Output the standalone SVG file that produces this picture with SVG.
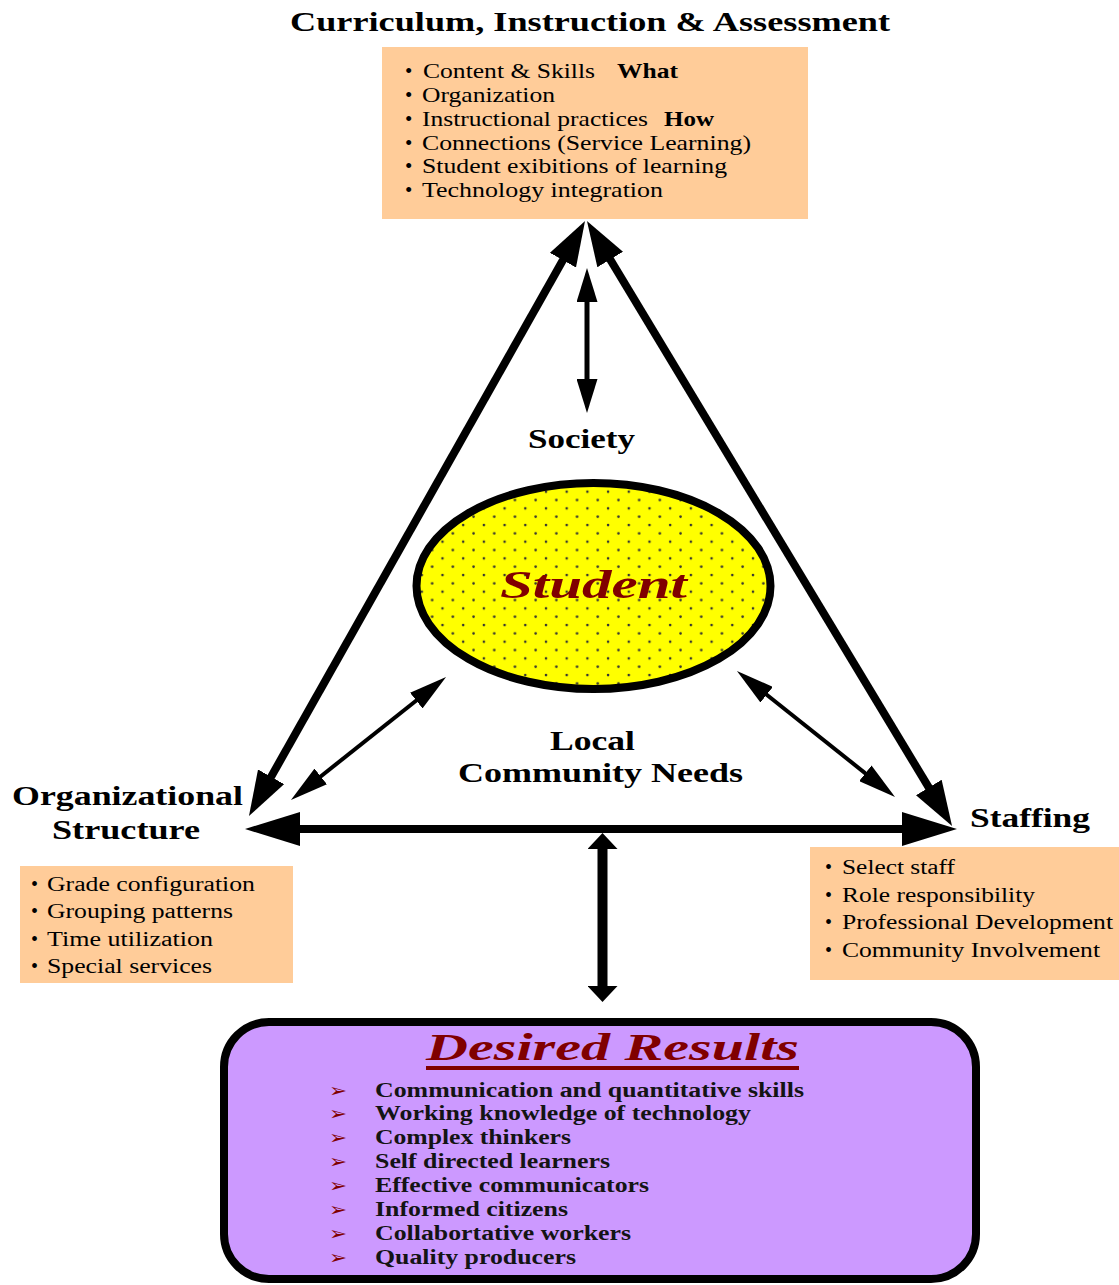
<svg xmlns="http://www.w3.org/2000/svg" width="1119" height="1285" viewBox="0 0 1119 1285">
<style>
  text { font-family: "Liberation Serif", Tinos, "Nimbus Roman", FreeSerif, "Times New Roman", Times, serif; fill: #000; }
  .hd { font-weight: bold; font-size: 28px; }
  .it { font-size: 21px; }
  .it2 { font-size: 20px; }
  .b { font-weight: bold; }
  .dr { font-weight: bold; font-style: italic; fill: #800000; }
  .li { font-weight: bold; font-size: 20px; fill: #141414; }
  .ar { font-family: "DejaVu Sans", "Noto Sans", sans-serif; font-size: 19px; fill: #800000; }
  .box { fill: #FFCC99; }
  .conn line { stroke: #000; fill: none; }
</style>
<defs>
  <marker id="mDiag" viewBox="0 0 45 30" markerWidth="45" markerHeight="30" refX="25" refY="15" markerUnits="userSpaceOnUse" orient="auto-start-reverse">
    <path d="M0,0 L45,15 L0,30 z" fill="#000"/>
  </marker>
  <marker id="mHor" viewBox="0 0 55 34" markerWidth="55" markerHeight="34" refX="35" refY="17" markerUnits="userSpaceOnUse" orient="auto-start-reverse">
    <path d="M0,0 L55,17 L0,34 z" fill="#000"/>
  </marker>
  <marker id="mSoc" viewBox="0 0 34 21" markerWidth="34" markerHeight="21" refX="19" refY="10.5" markerUnits="userSpaceOnUse" orient="auto-start-reverse">
    <path d="M0,0 L34,10.5 L0,21 z" fill="#000"/>
  </marker>
  <marker id="mSmall" viewBox="0 0 38 20" markerWidth="38" markerHeight="20" refX="23" refY="10" markerUnits="userSpaceOnUse" orient="auto-start-reverse">
    <path d="M0,0 L38,10 L0,20 z" fill="#000"/>
  </marker>
  <marker id="mVert" viewBox="0 0 16 30" markerWidth="16" markerHeight="30" refX="6" refY="15" markerUnits="userSpaceOnUse" orient="auto-start-reverse">
    <path d="M0,0 L16,15 L0,30 z" fill="#000"/>
  </marker>
  <pattern id="dots" patternUnits="userSpaceOnUse" x="541" y="487.7" width="20.7" height="16.67">
    <circle cx="5" cy="4" r="1.3" fill="#333"/>
    <circle cx="15.35" cy="12.33" r="1.3" fill="#333"/>
  </pattern>
</defs>

<g id="connectors" class="conn">
  <line x1="575.2" y1="238.4" x2="258.8" y2="798.6" stroke-width="8" marker-start="url(#mDiag)" marker-end="url(#mDiag)"/>
  <line x1="597.3" y1="238.1" x2="941.7" y2="808.9" stroke-width="8" marker-start="url(#mDiag)" marker-end="url(#mDiag)"/>
  <line x1="265" y1="829" x2="937" y2="829" stroke-width="8" marker-start="url(#mHor)" marker-end="url(#mHor)"/>
  <line x1="587" y1="283" x2="587" y2="398" stroke-width="5" marker-start="url(#mSoc)" marker-end="url(#mSoc)"/>
  <line x1="434.3" y1="686.3" x2="302.7" y2="790.7" stroke-width="4" marker-start="url(#mSmall)" marker-end="url(#mSmall)"/>
  <line x1="748.7" y1="680.4" x2="883.3" y2="787.6" stroke-width="4" marker-start="url(#mSmall)" marker-end="url(#mSmall)"/>
  <line x1="602.5" y1="843" x2="602.5" y2="992" stroke-width="10" marker-start="url(#mVert)" marker-end="url(#mVert)"/>
</g>

<g id="title">
  <text class="hd" x="290" y="31" font-size="29" textLength="600" lengthAdjust="spacingAndGlyphs">Curriculum, Instruction &amp; Assessment</text>
</g>

<g id="cia-box">
  <rect class="box" x="382" y="47" width="426" height="172"/>
  <text class="it" x="405" y="78">•</text>
  <text class="it" x="423" y="78" textLength="172" lengthAdjust="spacingAndGlyphs">Content &amp; Skills</text>
  <text class="it b" x="617" y="78" textLength="61" lengthAdjust="spacingAndGlyphs">What</text>
  <text class="it" x="405" y="102">•</text>
  <text class="it" x="422" y="102" textLength="133" lengthAdjust="spacingAndGlyphs">Organization</text>
  <text class="it" x="405" y="126">•</text>
  <text class="it" x="422" y="126" textLength="226" lengthAdjust="spacingAndGlyphs">Instructional practices</text>
  <text class="it b" x="664" y="126" textLength="50" lengthAdjust="spacingAndGlyphs">How</text>
  <text class="it" x="405" y="150">•</text>
  <text class="it" x="422" y="150" textLength="329" lengthAdjust="spacingAndGlyphs">Connections (Service Learning)</text>
  <text class="it" x="405" y="173">•</text>
  <text class="it" x="422" y="173" textLength="305" lengthAdjust="spacingAndGlyphs">Student exibitions of learning</text>
  <text class="it" x="405" y="197">•</text>
  <text class="it" x="422" y="197" textLength="241" lengthAdjust="spacingAndGlyphs">Technology integration</text>
</g>

<g id="society">
  <text class="hd" x="528" y="448" font-size="27" textLength="107" lengthAdjust="spacingAndGlyphs">Society</text>
</g>

<g id="student">
  <ellipse cx="593.5" cy="586" rx="177" ry="103" fill="#FFFF00"/>
  <ellipse cx="593.5" cy="586" rx="177" ry="103" fill="url(#dots)" stroke="#000" stroke-width="8"/>
  <text class="dr" x="500" y="598" font-size="40" textLength="187" lengthAdjust="spacingAndGlyphs">Student</text>
</g>

<g id="local">
  <text class="hd" x="550" y="750" textLength="85" lengthAdjust="spacingAndGlyphs">Local</text>
  <text class="hd" x="458" y="782" textLength="285" lengthAdjust="spacingAndGlyphs">Community Needs</text>
</g>

<g id="org">
  <text class="hd" x="12" y="805" textLength="231" lengthAdjust="spacingAndGlyphs">Organizational</text>
  <text class="hd" x="52" y="839" textLength="148" lengthAdjust="spacingAndGlyphs">Structure</text>
  <rect class="box" x="20" y="866" width="273" height="117"/>
  <text class="it2" x="31" y="891">•</text>
  <text class="it2" x="47" y="891" textLength="208" lengthAdjust="spacingAndGlyphs">Grade configuration</text>
  <text class="it2" x="31" y="918">•</text>
  <text class="it2" x="47" y="918" textLength="186" lengthAdjust="spacingAndGlyphs">Grouping patterns</text>
  <text class="it2" x="31" y="946">•</text>
  <text class="it2" x="47" y="946" textLength="166" lengthAdjust="spacingAndGlyphs">Time utilization</text>
  <text class="it2" x="31" y="973">•</text>
  <text class="it2" x="47" y="973" textLength="165" lengthAdjust="spacingAndGlyphs">Special services</text>
</g>

<g id="staffing">
  <text class="hd" x="970" y="827" textLength="120" lengthAdjust="spacingAndGlyphs">Staffing</text>
  <rect class="box" x="810" y="847" width="309" height="133"/>
  <text class="it2" x="825" y="874">•</text>
  <text class="it2" x="842" y="874" textLength="113" lengthAdjust="spacingAndGlyphs">Select staff</text>
  <text class="it2" x="825" y="902">•</text>
  <text class="it2" x="842" y="902" textLength="193" lengthAdjust="spacingAndGlyphs">Role responsibility</text>
  <text class="it2" x="825" y="929">•</text>
  <text class="it2" x="842" y="929" textLength="271" lengthAdjust="spacingAndGlyphs">Professional Development</text>
  <text class="it2" x="825" y="957">•</text>
  <text class="it2" x="842" y="957" textLength="258" lengthAdjust="spacingAndGlyphs">Community Involvement</text>
</g>

<g id="desired-results">
  <rect x="224" y="1022" width="752" height="257" rx="45" ry="45" fill="#CC99FF" stroke="#000" stroke-width="8"/>
  <text class="dr" x="426" y="1060" font-size="38" textLength="373" lengthAdjust="spacingAndGlyphs">Desired Results</text>
  <rect x="426" y="1066" width="373" height="4" fill="#800000"/>
  <text class="ar" x="329" y="1097" textLength="18" lengthAdjust="spacingAndGlyphs">➢</text>
  <text class="li" x="375" y="1097" textLength="429" lengthAdjust="spacingAndGlyphs">Communication and quantitative skills</text>
  <text class="ar" x="329" y="1120" textLength="18" lengthAdjust="spacingAndGlyphs">➢</text>
  <text class="li" x="375" y="1120" textLength="376" lengthAdjust="spacingAndGlyphs">Working knowledge of technology</text>
  <text class="ar" x="329" y="1144" textLength="18" lengthAdjust="spacingAndGlyphs">➢</text>
  <text class="li" x="375" y="1144" textLength="196" lengthAdjust="spacingAndGlyphs">Complex thinkers</text>
  <text class="ar" x="329" y="1168" textLength="18" lengthAdjust="spacingAndGlyphs">➢</text>
  <text class="li" x="375" y="1168" textLength="235" lengthAdjust="spacingAndGlyphs">Self directed learners</text>
  <text class="ar" x="329" y="1192" textLength="18" lengthAdjust="spacingAndGlyphs">➢</text>
  <text class="li" x="375" y="1192" textLength="274" lengthAdjust="spacingAndGlyphs">Effective communicators</text>
  <text class="ar" x="329" y="1216" textLength="18" lengthAdjust="spacingAndGlyphs">➢</text>
  <text class="li" x="375" y="1216" textLength="193" lengthAdjust="spacingAndGlyphs">Informed citizens</text>
  <text class="ar" x="329" y="1240" textLength="18" lengthAdjust="spacingAndGlyphs">➢</text>
  <text class="li" x="375" y="1240" textLength="256" lengthAdjust="spacingAndGlyphs">Collabortative workers</text>
  <text class="ar" x="329" y="1264" textLength="18" lengthAdjust="spacingAndGlyphs">➢</text>
  <text class="li" x="375" y="1264" textLength="201" lengthAdjust="spacingAndGlyphs">Quality producers</text>
</g>
</svg>
